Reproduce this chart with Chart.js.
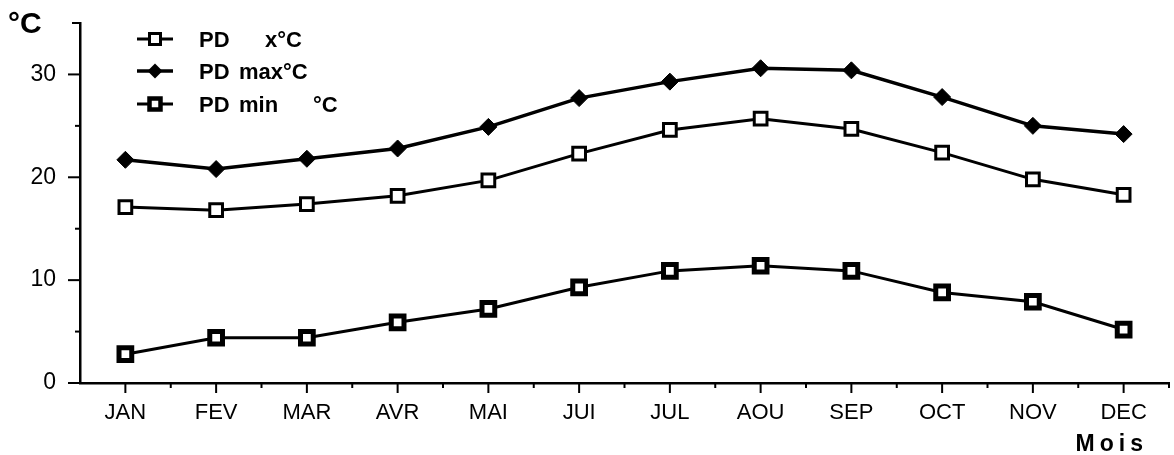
<!DOCTYPE html>
<html><head><meta charset="utf-8">
<script src="https://cdn.jsdelivr.net/npm/chart.js@4"></script>
<style>
html,body{margin:0;padding:0;background:#fff;}
#wrap{position:relative;width:1174px;height:455px;font-family:"Liberation Sans",Arial,sans-serif;}
canvas{position:absolute;left:0;top:0;}
.t{position:absolute;color:#000;font-weight:bold;white-space:pre;line-height:1;}
.ic{position:absolute;left:137px;}
.lt{position:absolute;font-weight:bold;font-size:22px;line-height:1;white-space:pre;color:#000;}
</style></head>
<body><div id="wrap">
<canvas id="c" width="1174" height="455"></canvas>
<div class="t" style="left:8px;top:8px;font-size:30px;">°C</div>
<div class="t" style="right:26px;top:432px;font-size:23px;letter-spacing:5px;">Mois</div>

<svg class="ic" style="top:31px" width="36" height="16"><line x1="0" y1="8" x2="36" y2="8" stroke="#000" stroke-width="3"/><rect x="12.5" y="2.5" width="11" height="11" fill="#fff" stroke="#000" stroke-width="3"/></svg>
<div class="lt" style="left:199px;top:29px;">PD</div><div class="lt" style="left:265px;top:29px;">x°C</div>

<svg class="ic" style="top:63px" width="36" height="16"><line x1="0" y1="8" x2="36" y2="8" stroke="#000" stroke-width="3.5"/><polygon points="18,0.5 25.5,8 18,15.5 10.5,8" fill="#000"/></svg>
<div class="lt" style="left:199px;top:61px;">PD</div><div class="lt" style="left:239px;top:61px;">max°C</div>

<svg class="ic" style="top:96px" width="36" height="16"><line x1="0" y1="8" x2="36" y2="8" stroke="#000" stroke-width="3"/><rect x="12.5" y="2.5" width="11" height="11" fill="#fff" stroke="#000" stroke-width="4.5"/></svg>
<div class="lt" style="left:199px;top:94px;">PD</div><div class="lt" style="left:239px;top:94px;">min</div><div class="lt" style="left:313px;top:94px;">°C</div>
</div>
<script>
const months = ["JAN","FEV","MAR","AVR","MAI","JUI","JUL","AOU","SEP","OCT","NOV","DEC"];
const pdMean = [17.1,16.8,17.4,18.2,19.7,22.3,24.6,25.7,24.7,22.4,19.8,18.3];
const pdMax  = [21.7,20.8,21.8,22.8,24.9,27.7,29.3,30.6,30.4,27.8,25.0,24.2];
const pdMin  = [2.8,4.4,4.4,5.9,7.2,9.3,10.9,11.4,10.9,8.8,7.9,5.2];
const yTickValues = [0,5,10,15,20,25,30,35];
const yLabelValues = [0,10,20,30];

const tickPlugin = {
  id:'ticks',
  afterDraw(chart){
    const ctx = chart.ctx, xs = chart.scales.x, ys = chart.scales.y;
    const a = chart.chartArea;
    ctx.save();
    ctx.strokeStyle = '#000';
    ctx.lineWidth = 2;
    yTickValues.forEach(v=>{
      const y = ys.getPixelForValue(v);
      const major = yLabelValues.includes(v);
      const len = major ? 12 : (v===35 ? 8 : 5);
      ctx.beginPath();
      ctx.moveTo(a.left - len, y);
      ctx.lineTo(a.left, y);
      ctx.stroke();
    });
    const half = (xs.getPixelForValue(1)-xs.getPixelForValue(0))/2;
    months.forEach((m,i)=>{
      const x = xs.getPixelForValue(i);
      ctx.beginPath(); ctx.moveTo(x, a.bottom); ctx.lineTo(x, a.bottom+10); ctx.stroke();
      ctx.beginPath(); ctx.moveTo(x+half, a.bottom); ctx.lineTo(x+half, a.bottom+5); ctx.stroke();
    });
    ctx.restore();
  }
};

new Chart(document.getElementById('c'), {
  type:'line',
  data:{
    labels: months,
    datasets:[
      {label:'PD   x°C', data:pdMean, borderColor:'#000', borderWidth:3, pointStyle:'rect', pointRadius:9, pointBackgroundColor:'#fff', pointBorderColor:'#000', pointBorderWidth:3, tension:0},
      {label:'PD  max°C', data:pdMax, borderColor:'#000', borderWidth:3.5, pointStyle:'rectRot', pointRadius:8.5, pointBackgroundColor:'#000', pointBorderColor:'#000', pointBorderWidth:1, tension:0},
      {label:'PD  min  °C', data:pdMin, borderColor:'#000', borderWidth:3, pointStyle:'rect', pointRadius:9, pointBackgroundColor:'#fff', pointBorderColor:'#000', pointBorderWidth:5, tension:0}
    ]
  },
  options:{
    responsive:false, animation:false,
    layout:{autoPadding:false, padding:{top:23,right:5,left:0,bottom:0}},
    plugins:{legend:{display:false}, tooltip:{enabled:false}},
    scales:{
      x:{
        offset:true,
        grid:{display:false, drawTicks:false},
        border:{display:true, color:'#000', width:2.5},
        ticks:{color:'#000', padding:17, font:{family:'"Liberation Sans", Arial, sans-serif', size:22}, maxRotation:0, autoSkip:false},
        afterFit(s){ s.height = 72; s.paddingLeft = 0; s.paddingRight = 0; }
      },
      y:{
        min:0, max:35,
        afterBuildTicks(s){ s.ticks = yLabelValues.map(v=>({value:v})); },
        grid:{display:false, drawTicks:false},
        border:{display:true, color:'#000', width:2.5},
        ticks:{color:'#000', padding:24, font:{family:'"Liberation Sans", Arial, sans-serif', size:23}},
        afterFit(s){ s.width = 80; s.paddingTop = 0; s.paddingBottom = 0; }
      }
    }
  },
  plugins:[tickPlugin]
});
</script>
</body></html>
